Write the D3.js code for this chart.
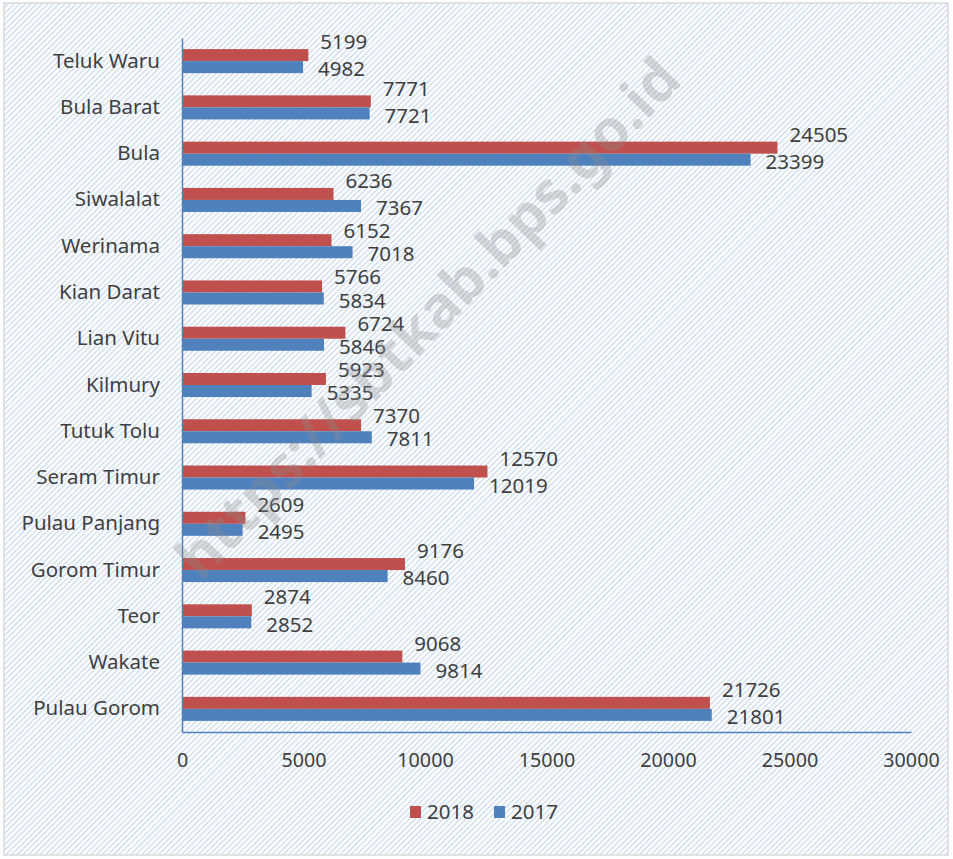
<!DOCTYPE html>
<html>
<head>
<meta charset="utf-8">
<script src="https://cdn.jsdelivr.net/npm/d3@7"></script>
<style>
  html, body { margin: 0; padding: 0; background: #fff; }
  svg text { font-family: "Noto Sans", "Open Sans", sans-serif; fill: #404040; }
  .axis path, .axis line { stroke: #4F81BD; }
</style>
</head>
<body>
<svg id="chart" width="953" height="859"></svg>
<script>
const categories = ["Teluk Waru", "Bula Barat", "Bula", "Siwalalat", "Werinama", "Kian Darat",
  "Lian Vitu", "Kilmury", "Tutuk Tolu", "Seram Timur", "Pulau Panjang", "Gorom Timur",
  "Teor", "Wakate", "Pulau Gorom"];
const values2018 = [5199, 7771, 24505, 6236, 6152, 5766, 6724, 5923, 7370, 12570, 2609, 9176, 2874, 9068, 21726];
const values2017 = [4982, 7721, 23399, 7367, 7018, 5834, 5846, 5335, 7811, 12019, 2495, 8460, 2852, 9814, 21801];
const xTicks = [0, 5000, 10000, 15000, 20000, 25000, 30000];
const seriesNames = ["2018", "2017"];
const watermark = "https://sbtkab.bps.go.id";

const colors = { "2018": "#C0504D", "2017": "#4F81BD" };
const margin = { top: 38, right: 42, bottom: 127, left: 182 };
const W = 953, H = 859;
const innerW = W - margin.left - margin.right,
      innerH = H - margin.top - margin.bottom;

const svg = d3.select("#chart");

// hatched background
const defs = svg.append("defs");
const pat = defs.append("pattern")
  .attr("id", "hatch")
  .attr("width", 4).attr("height", 4)
  .attr("patternUnits", "userSpaceOnUse")
  .attr("patternTransform", "rotate(-45)");
pat.append("rect").attr("width", 4).attr("height", 4).attr("fill", "#fff");
pat.append("line").attr("x1", 0).attr("y1", 0).attr("x2", 4).attr("y2", 0)
  .attr("stroke", "#c3d6ee").attr("stroke-width", 2.2);

svg.append("rect").attr("x", 4).attr("y", 3).attr("width", 944).attr("height", 852)
  .attr("fill", "url(#hatch)").attr("stroke", "#d9d9d9").attr("stroke-width", 1.5);

const g = svg.append("g").attr("transform", `translate(${margin.left},${margin.top})`);

const x = d3.scaleLinear().domain([0, 30000]).range([0, innerW]);
const y0 = d3.scaleBand().domain(categories).range([0, innerH]).paddingInner(0.48).paddingOuter(0.24);
const y1 = d3.scaleBand().domain(seriesNames).range([0, y0.bandwidth()]);

const rows = categories.map((c, i) => ({ cat: c, "2018": values2018[i], "2017": values2017[i] }));

g.selectAll(".cat").data(rows).enter().append("g")
  .attr("transform", d => `translate(0,${y0(d.cat)})`)
  .selectAll("rect").data(d => seriesNames.map(s => ({ s, v: d[s] }))).enter().append("rect")
  .attr("x", 0)
  .attr("y", d => y1(d.s))
  .attr("width", d => x(d.v))
  .attr("height", y1.bandwidth())
  .attr("fill", d => colors[d.s]);

// value labels: 2018 above its bar, 2017 beside; push down if they collide
const labels = [];
rows.forEach(r => seriesNames.forEach(s => {
  labels.push({
    v: r[s],
    x: x(r[s]) + (s === "2018" ? 12 : 15),
    y: y0(r.cat) + y1(s) + y1.bandwidth() / 2 + (s === "2018" ? -13 : 2)
  });
}));
const minGap = 23;
for (let i = 1; i < labels.length; i++) {
  for (let j = Math.max(0, i - 3); j < i; j++) {
    const a = labels[j], b = labels[i];
    const wa = String(a.v).length * 11.7, wb = String(b.v).length * 11.7;
    const xOverlap = a.x < b.x + wb && b.x < a.x + wa;
    if (xOverlap && b.y - a.y < minGap) b.y = a.y + minGap;
  }
}
g.selectAll("text.val").data(labels).enter().append("text")
  .attr("class", "val")
  .attr("x", d => d.x)
  .attr("y", d => d.y)
  .attr("dy", "0.35em")
  .style("font-size", "20.5px")
  .text(d => d.v);

// y axis
const yAxis = g.append("g").attr("class", "axis")
  .call(d3.axisLeft(y0).tickSize(0).tickPadding(22));
yAxis.selectAll("text").style("font-size", "20.5px");

// x axis
const xAxis = g.append("g").attr("class", "axis")
  .attr("transform", `translate(0,${innerH})`)
  .call(d3.axisBottom(x).tickValues(xTicks).tickSize(0).tickPadding(21).tickFormat(d3.format("d")));
xAxis.selectAll("text").style("font-size", "19.7px");
xAxis.select(".domain").attr("stroke-width", 1.5);
yAxis.select(".domain").attr("stroke-width", 1.5);

// legend
const legend = svg.append("g").attr("transform", "translate(410,812)");
const lx = d3.scalePoint().domain(seriesNames).range([0, 84]);
const li = legend.selectAll("g").data(seriesNames).enter().append("g")
  .attr("transform", d => `translate(${lx(d)},0)`);
li.append("rect").attr("x", 0).attr("y", -6).attr("width", 11).attr("height", 12).attr("fill", d => colors[d]);
li.append("text").attr("x", 17).attr("dy", "0.35em").style("font-size", "20.5px").text(d => d);

// watermark
svg.append("text")
  .attr("transform", "translate(428,318) rotate(-46)")
  .attr("text-anchor", "middle")
  .attr("dy", "0.35em")
  .style("font-size", "58px")
  .style("font-weight", "bold")
  .style("fill", "rgba(140,140,140,0.32)")
  .text(watermark);
</script>
</body>
</html>
